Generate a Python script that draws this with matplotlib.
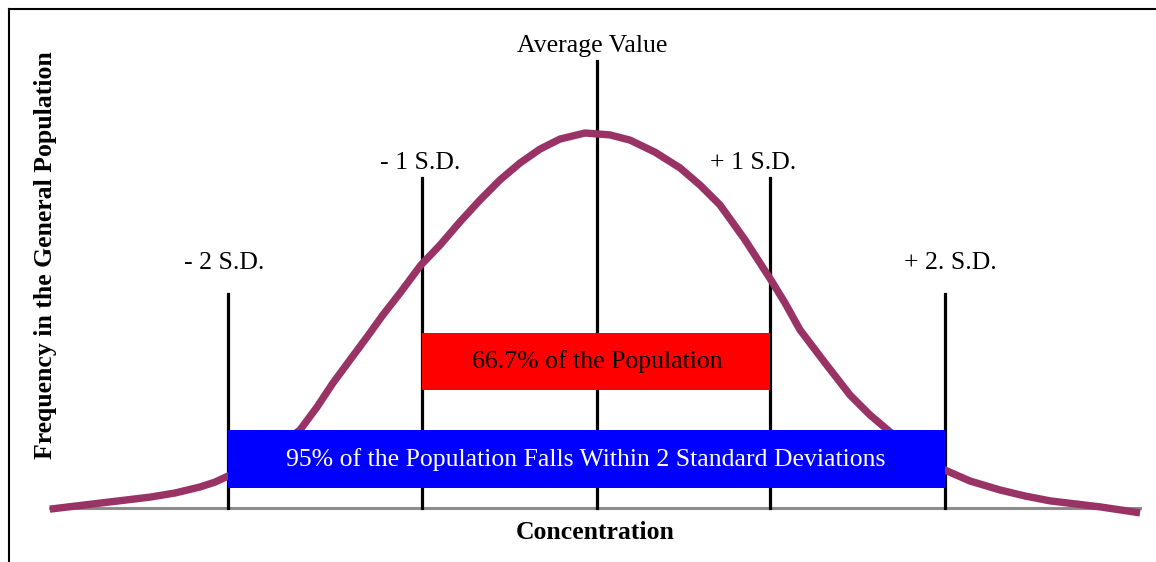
import matplotlib
matplotlib.use("Agg")
import matplotlib.pyplot as plt
from matplotlib.lines import Line2D

# bell curve (x in S.D. units from the mean, y relative to peak)
curve_x = [-3.126, -2.983, -2.840, -2.697, -2.554, -2.411, -2.269, -2.183, -2.109, -2.011,
           -1.926, -1.811, -1.697, -1.600, -1.509, -1.411, -1.314, -1.223, -1.126, -1.006,
           -0.897, -0.783, -0.669, -0.554, -0.440, -0.326, -0.211, -0.069, 0.074, 0.189,
           0.331, 0.474, 0.589, 0.703, 0.846, 0.994, 1.074, 1.160, 1.303, 1.446,
           1.560, 1.674, 1.817, 1.989, 2.131, 2.303, 2.446, 2.589, 2.731, 2.874,
           2.989, 3.103]
curve_y = [-0.003, 0.005, 0.013, 0.021, 0.029, 0.040, 0.056, 0.069, 0.085, 0.107,
           0.133, 0.168, 0.208, 0.269, 0.333, 0.395, 0.456, 0.515, 0.573, 0.648,
           0.701, 0.763, 0.821, 0.875, 0.920, 0.957, 0.984, 1.000, 0.995, 0.981,
           0.949, 0.907, 0.861, 0.808, 0.715, 0.608, 0.547, 0.475, 0.387, 0.301,
           0.248, 0.203, 0.149, 0.101, 0.072, 0.048, 0.032, 0.019, 0.011, 0.003,
           -0.005, -0.013]

# marker lines: position and height
sd_pos = [-2.11, -1.0, 0.0, 0.99, 1.99]
sd_top = [0.571, 0.88, 1.192, 0.88, 0.571]
sd_labels = ["- 2 S.D.", "- 1 S.D.", "Average Value", "+ 1 S.D.", "+ 2. S.D."]
sd_label_x = [-2.13, -1.01, -0.03, 0.89, 2.02]
sd_label_y = [0.653, 0.92, 1.232, 0.92, 0.653]

# population bands
band_left = [-1.0, -2.11]
band_right = [0.99, 1.99]
band_bottom = [0.315, 0.053]
band_top = [0.467, 0.208]
band_colors = ["#ff0000", "#0000ff"]
band_text = ["66.7% of the Population",
             "95% of the Population Falls Within 2 Standard Deviations"]
band_text_colors = ["black", "white"]
band_text_x = [0.0, -0.063]

serif = "Liberation Serif"
curve_color = "#993366"
fs = 18.5

fig = plt.figure(figsize=(11.56, 5.62), dpi=100)
ax = fig.add_axes([0, 0, 1, 1])
ax.set_xlim(-3.411, 3.194)
ax.set_ylim(-0.144, 1.3547)
ax.axis("off")

# baseline
ax.plot([curve_x[0], curve_x[-1]], [0, 0], color="#8c8c8c", lw=2.2, zorder=1)

# S.D. lines and labels
for x, top in zip(sd_pos, sd_top):
    ax.plot([x, x], [0, top], color="black", lw=2.3, zorder=2)
for x, y, lab in zip(sd_label_x, sd_label_y, sd_labels):
    ax.text(x, y, lab, ha="center", va="center", fontsize=fs, family=serif)

# curve
ax.plot(curve_x, curve_y, color=curve_color, lw=5.3, solid_joinstyle="round",
        solid_capstyle="butt", zorder=3)

# bands sit on top of lines and curve
for l, r, b, t, c, txt, tc, tx in zip(band_left, band_right, band_bottom, band_top,
                                      band_colors, band_text, band_text_colors, band_text_x):
    ax.fill_between([l, r], b, t, color=c, lw=0, zorder=4)
    ax.text(tx, (b + t) / 2, txt, color=tc, ha="center", va="center",
            fontsize=fs, family=serif, zorder=5)

# axis titles
ax.text(0.515, 0.053, "Concentration", transform=ax.transAxes, ha="center",
        va="center", fontsize=fs, fontweight="bold", family=serif)
ax.text(0.039, 0.546, "Frequency in the General Population", transform=ax.transAxes,
        ha="center", va="center", rotation=90, fontsize=fs, fontweight="bold",
        family=serif)

# frame lines (top and left)
fig.add_artist(Line2D([9 / 1156, 1], [1 - 9 / 562, 1 - 9 / 562],
                      transform=fig.transFigure, color="black", lw=1.5))
fig.add_artist(Line2D([9 / 1156, 9 / 1156], [0, 1 - 9 / 562],
                      transform=fig.transFigure, color="black", lw=1.5))

fig.savefig("out.png", dpi=100, facecolor="white")
